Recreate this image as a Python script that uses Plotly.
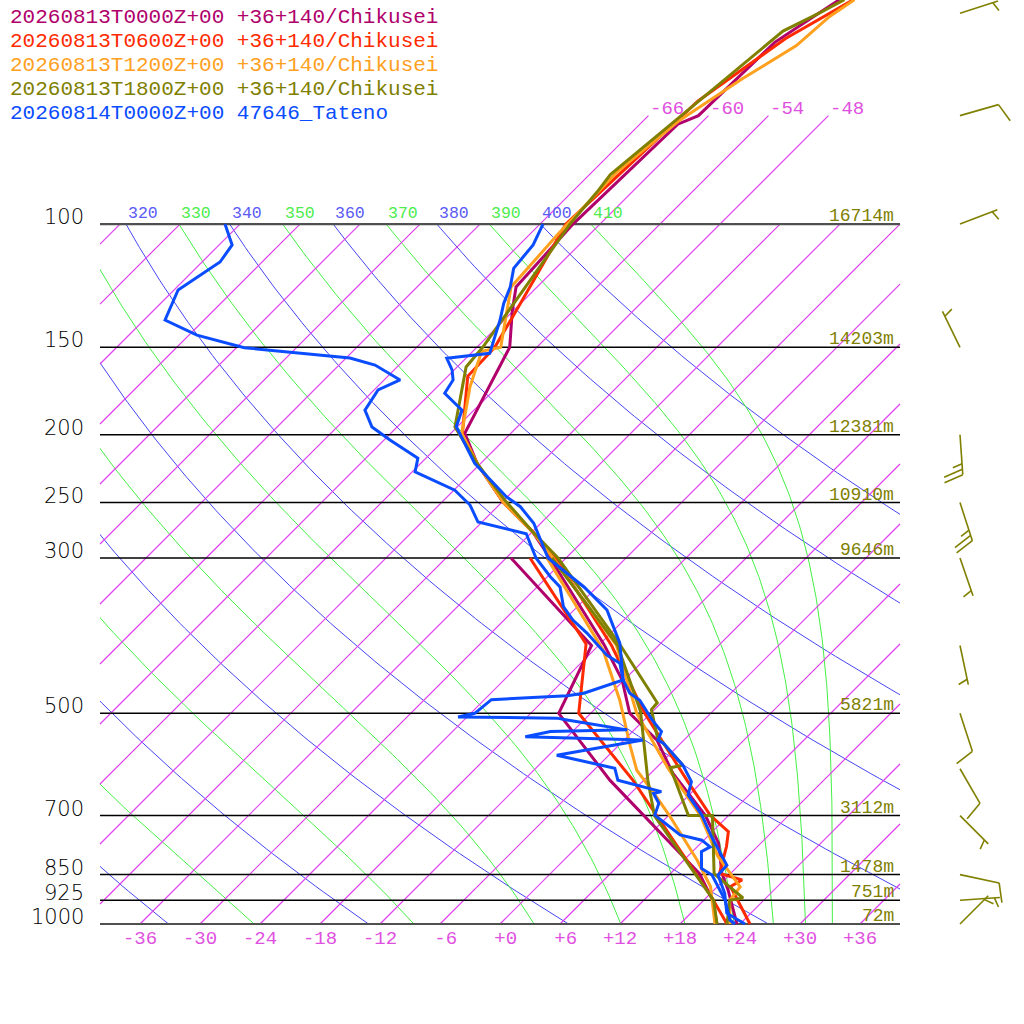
import numpy as np
import plotly.graph_objects as go

# soundings: pressure (hPa), temperature / dew point (degC)
p_00z_t = [1000, 894, 846, 767, 700, 609, 546, 500, 448, 400, 300, 275, 250, 220, 199, 150, 133, 123, 100, 72, 70, 55, 50, 47.8]
t_00z = [23.7, 19.4, 17.1, 13.8, 9.7, 2.2, -2.7, -8.1, -12.2, -17.4, -31.6, -36.0, -41.8, -48.3, -52.6, -56.7, -60.1, -62.1, -62.7, -62.2, -61.0, -60.7, -59.2, -58.5]
p_00z_td = [1000, 925, 847, 623, 500, 400, 300]
td_00z = [21.7, 18.9, 14.9, -3.4, -15.2, -18.7, -35.5]

p_06z_t = [1000, 884, 865, 847, 775, 738, 700, 623, 500, 400, 300, 275, 250, 220, 200, 165, 150, 130, 100, 66.7, 54.3, 47.8]
t_06z = [25.0, 19.3, 19.8, 16.9, 14.9, 13.6, 10.2, 4.3, -6.6, -16.7, -31.0, -36.0, -41.8, -48.3, -52.7, -58.0, -58.2, -60.0, -63.4, -62.5, -60.0, -57.1]
p_06z_td = [1000, 914, 623, 500, 398, 300]
td_06z = [22.7, 18.4, -1.1, -13.2, -19.4, -33.6]

p_12z_t = [1000, 925, 885, 800, 700, 600, 500, 400, 300, 275, 250, 220, 199, 171, 152, 150, 123, 103, 84, 71, 62, 55.6, 50.5, 47.8]
t_12z = [23.0, 20.6, 20.3, 15.0, 9.2, 1.3, -7.4, -16.2, -31.3, -36.0, -41.8, -48.3, -52.9, -56.7, -59.1, -57.6, -62.6, -63.2, -63.5, -62.4, -60.3, -58.2, -57.8, -57.0]
p_12z_td = [1000, 884, 810, 700, 650, 603, 558, 479, 406, 300]
td_12z = [21.5, 17.3, 13.3, 6.1, 2.3, -1.7, -4.7, -10.4, -17.1, -31.9]

p_18z_t = [1000, 925, 918, 848, 700, 700, 598, 593, 540, 494, 483, 400, 300, 275, 248, 220, 195, 160, 150, 100, 90, 85, 53, 50, 47.8]
t_18z = [22.7, 20.6, 21.7, 16.4, 10.4, 8.0, 1.4, 2.4, -3.0, -6.3, -6.4, -15.8, -30.8, -36.0, -41.9, -48.3, -54.2, -59.1, -59.4, -63.0, -63.5, -63.9, -61.0, -59.2, -58.0]
p_18z_td = [1000, 925, 700, 623, 497, 400, 300]
td_18z = [21.7, 19.0, 4.6, 0.4, -7.2, -16.1, -31.4]

# Tateno observation
p_obs_t = [1000, 965, 904, 851, 824, 750, 699, 654, 626, 593, 552, 546, 531, 511, 479, 468, 448, 424, 397, 376, 356, 330,
           300, 267.6, 253.4, 245.2, 219.7, 203.5, 194.8, 184.4, 174.5, 167, 161.6, 155.5, 153, 137.1, 129.8, 122.9, 115.7, 107.1, 100]
t_obs = [24.5, 21.6, 19.4, 16.9, 16.8, 12.4, 9.3, 5.9, 4.9, 2.4, -1.7, -2.6, -3.1, -5.2, -8.4, -10.1, -12.1, -13.9, -16.1, -18.4, -20.7, -25.3,
         -31.8, -36.7, -39.7, -42.1, -48.6, -52.1, -54.1, -55.2, -58.6, -59.1, -60.2, -61.9, -58.1, -60.4, -61.7, -62.7, -64.2, -64.6, -65.7]
p_obs_td = [1000, 987, 924, 889, 851, 833, 788, 776, 759, 746, 699, 672, 651, 647, 623, 599, 574, 546, 540, 531, 528, 511, 508, 506,
            500, 478, 472, 468, 448, 424, 413, 384, 368, 352, 330, 319, 300, 277, 266.5, 252, 240, 226, 216, 203.5, 195, 184.4,
            172.6, 167, 159, 155.4, 150.2, 144.1, 137.1, 124.2, 113.3, 107.1, 100]
td_obs = [23.5, 22.6, 20.1, 18.3, 16.3, 14.6, 12.9, 13.3, 11.8, 9.1, 4.6, 3.8, 2.3, 2.9, -2.6, -4.1, -11.2, -4.1, -16.2, -14.2, -6.7, -13.7, -14.9, -24.9,
          -23.6, -23.3, -16.1, -14.7, -12.1, -14.1, -16.2, -20.4, -23.1, -25.4, -27.7, -29.7, -33.0, -36.4, -42.4, -44.9, -47.9, -53.7, -54.8, -59.4, -62.5, -64.9,
          -65.6, -64.4, -68.4, -71.6, -83.2, -89.2, -93.9, -95.6, -94.2, -94.7, -97.5]

# winds
wind_p = [50, 70, 100, 150, 200, 250, 300, 400, 500, 600, 700, 850, 925, 1000]
wind_dir = [72, 74, 69, 334, 176, 162, 161, 168, 162, 150, 135, 102, 86, 45]
wind_kt = [5, 10, 5, 5, 25, 25, 5, 5, 10, 10, 5, 10, 5, 5]

# standard levels and heights
levels = [100, 150, 200, 250, 300, 500, 700, 850, 925, 1000]
level_hgt = ['16714m', '14203m', '12381m', '10910m', '9646m', '5821m', '3112m', '1478m', '751m', '72m']

runs = ['20260813T0000Z+00 +36+140/Chikusei', '20260813T0600Z+00 +36+140/Chikusei',
        '20260813T1200Z+00 +36+140/Chikusei', '20260813T1800Z+00 +36+140/Chikusei',
        '20260814T0000Z+00 47646_Tateno']
colors = ['#b0006b', '#ff2a00', '#ffa01e', '#808000', '#0a4cff']

K = 30.4  # skew: degC per ln(p) unit
MONO = 'Liberation Mono'
ISO = '#e040f0'
upper_iso = [-66, -60, -54, -48]


def skew(t, p):
    return np.asarray(t, float) + K * np.log(1000.0 / np.asarray(p, float))


def theta_e(tc, p):
    tk = tc + 273.15
    es = np.minimum(6.112 * np.exp(17.67 * tc / (tc + 243.5)), 0.5 * p)
    r = 622.0 * es / (p - es)
    return tk * (1000.0 / p) ** (0.2854 * (1 - 0.00028 * r)) * np.exp((3.376 / tk - 0.00254) * r * (1 + 0.00081 * r))


def moist_t(the, p):
    lo = np.full(p.shape, -160.0)
    hi = np.full(p.shape, 50.0)
    for _ in range(60):
        mid = 0.5 * (lo + hi)
        up = theta_e(mid, p) > the
        hi = np.where(up, mid, hi)
        lo = np.where(up, lo, mid)
    return 0.5 * (lo + hi)


fig = go.Figure()
pp = np.geomspace(1000, 100, 150)

# isotherms clipped to the diagram box (X in [-40, 40], 1000..100 hPa)
ix, iy = [], []
for t in range(-108, 37, 6):
    top = np.log(1000 / 70.0) if t in upper_iso else np.log(10)
    l0 = max(0.0, (-40 - t) / K)
    l1 = min(top, (40 - t) / K)
    if l0 < l1:
        ix += [float(t + K * l0), float(t + K * l1), None]
        iy += [float(1000 * np.exp(-l0)), float(1000 * np.exp(-l1)), None]
fig.add_trace(go.Scatter(x=ix, y=iy, mode='lines', line=dict(color=ISO, width=1.2), opacity=1.0,
                         xaxis='x2', yaxis='y2'))

# dry adiabats (blue) and moist adiabats (green)
top_labels = []
for th in range(240, 401, 20):
    tt = th * (pp / 1000.0) ** 0.2857 - 273.15
    xs = skew(tt, pp)
    fig.add_trace(go.Scatter(x=xs, y=pp, mode='lines', line=dict(color='#4646f4', width=1), xaxis='x', yaxis='y'))
    top_labels.append((xs[-1], str(th), '#5a5af5'))
for the in range(250, 411, 20):
    tt = moist_t(the, pp)
    xs = skew(tt, pp)
    fig.add_trace(go.Scatter(x=xs, y=pp, mode='lines', line=dict(color='#44f044', width=1), xaxis='x', yaxis='y'))
    top_labels.append((xs[-1], str(the), '#4cec4c'))

# pressure lines
for p in levels:
    edge = p in (100, 1000)
    fig.add_trace(go.Scatter(x=[-40, 40], y=[p, p], mode='lines',
                             line=dict(color='#505050' if edge else 'black', width=2.2 if edge else 1.5),
                             xaxis='x2', yaxis='y2'))

# profiles
prof = [(p_00z_t, t_00z, p_00z_td, td_00z), (p_06z_t, t_06z, p_06z_td, td_06z),
        (p_12z_t, t_12z, p_12z_td, td_12z), (p_18z_t, t_18z, p_18z_td, td_18z),
        (p_obs_t, t_obs, p_obs_td, td_obs)]
for (pt, tt, pd, td), c in zip(prof, colors):
    fig.add_trace(go.Scatter(x=skew(td, pd), y=pd, mode='lines', line=dict(color=c, width=3), xaxis='x2', yaxis='y2'))
    fig.add_trace(go.Scatter(x=skew(tt, pt), y=pt, mode='lines', line=dict(color=c, width=3), xaxis='x2', yaxis='y2'))

# wind barbs
bx, by = [], []
X0 = 46.0
rot = np.radians(70)
for p0, d, v in zip(wind_p, wind_dir, wind_kt):
    a = np.radians(d)
    sx, sy = np.sin(a), -np.cos(a)
    ax_, ay_ = sx * np.cos(rot) - sy * np.sin(rot), sx * np.sin(rot) + sy * np.cos(rot)

    def seg(x0, y0, x1, y1):
        bx.extend([X0 + x0 / 10.0, X0 + x1 / 10.0, None])
        by.extend([p0 * np.exp(y0 / 304.0), p0 * np.exp(y1 / 304.0), None])

    seg(0, 0, 40 * sx, 40 * sy)
    nfull, half = v // 10, (v % 10) >= 5
    pos = 40.0 if nfull else 34.5
    for i in range(nfull):
        seg(pos * sx, pos * sy, pos * sx + 20 * ax_, pos * sy + 20 * ay_)
        pos -= 5.5
    if half:
        seg(pos * sx, pos * sy, pos * sx + 10 * ax_, pos * sy + 10 * ay_)
fig.add_trace(go.Scatter(x=bx, y=by, mode='lines', line=dict(color='#808000', width=1.6), xaxis='x2', yaxis='y2'))

ann = []
for i, (txt, c) in enumerate(zip(runs, colors)):
    ann.append(dict(xref='paper', yref='paper', x=8 / 1024, y=1 - (17 + 24 * i) / 1024, xanchor='left', yanchor='middle',
                    text=txt, showarrow=False, font=dict(family=MONO, size=21, color=c)))
for p, h in zip(levels, level_hgt):
    ann.append(dict(xref='x2', yref='y2', x=-41.4, y=np.log10(p), xanchor='right', yanchor='middle', yshift=7,
                    text=str(p), showarrow=False,
                    font=dict(family='DejaVu Sans', size=21, weight=200, color='black')))
    ann.append(dict(xref='x2', yref='y2', x=39.6, y=np.log10(p), xanchor='right', yanchor='middle', yshift=8,
                    text=h, showarrow=False, font=dict(family=MONO, size=18, color='#808000')))
for t in upper_iso:
    ann.append(dict(xref='x2', yref='y2', x=t + K * np.log(1000 / 70.0), y=np.log10(70), xanchor='left', yanchor='middle',
                    yshift=7, text=str(t), showarrow=False, font=dict(family=MONO, size=19, color='#e050e0')))
for xv, txt, c in top_labels:
    if -40 <= xv <= 40:
        ann.append(dict(xref='x2', yref='y2', x=xv, y=2, xanchor='left', yanchor='middle', yshift=11,
                        text=txt, showarrow=False, font=dict(family=MONO, size=16.5, color=c)))

tick_vals = list(range(-36, 37, 6))
tick_text = [f'{v:+d}'.rjust(3, '\u00a0') for v in tick_vals]

fig.update_layout(
    template='none',
    width=1024, height=1024, margin=dict(l=0, r=0, t=0, b=0),
    paper_bgcolor='white', plot_bgcolor='rgba(0,0,0,0)', showlegend=False,
    annotations=ann,
    xaxis=dict(domain=[100 / 1024, 900 / 1024], range=[-40, 40], showgrid=False, zeroline=False, showline=False,
               tickvals=tick_vals, ticktext=tick_text, ticks='',
               tickfont=dict(family=MONO, size=19, color='#e050e0'), fixedrange=True),
    yaxis=dict(domain=[100 / 1024, 800 / 1024], type='log', range=[3, 2], showgrid=False, zeroline=False,
               showline=False, showticklabels=False, ticks='', fixedrange=True),
    xaxis2=dict(domain=[0, 1], range=[-50, 52.4], visible=False, anchor='y2', fixedrange=True),
    yaxis2=dict(domain=[0, 1], type='log', range=[np.log10(1389.5), np.log10(47.85)], visible=False,
                anchor='x2', fixedrange=True),
)

fig.write_html("out.html", config={'displayModeBar': False},
               post_script="document.body.style.margin='0';")
